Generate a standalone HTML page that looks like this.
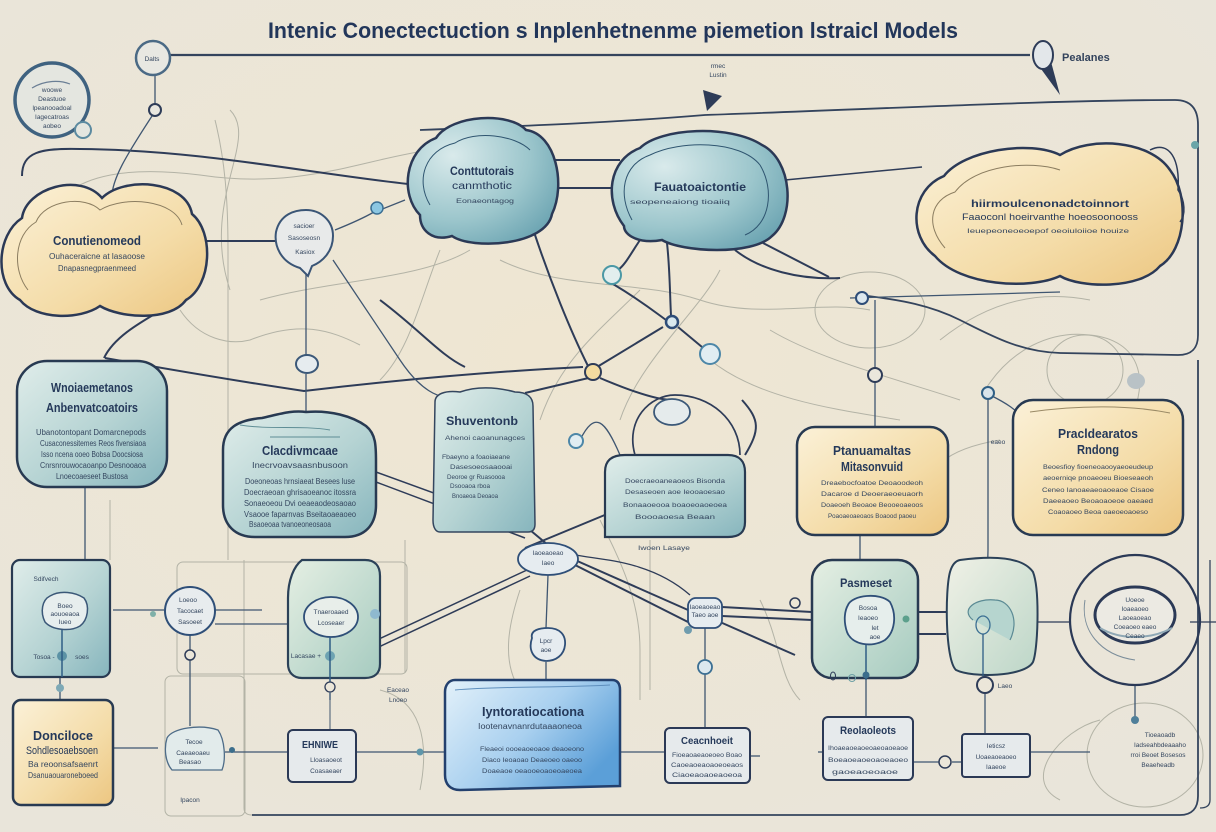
<!DOCTYPE html>
<html><head><meta charset="utf-8"><style>
html,body{margin:0;padding:0;background:#ebe6d9;}
svg{display:block;}
text{font-family:"Liberation Sans",sans-serif;fill:#25395a;}
.t{font-size:13px;font-weight:bold;}
.b{font-weight:bold;}
.s{font-size:8px;fill:#34465f;}
.xs{font-size:6.5px;fill:#34465f;}
</style></head><body>
<svg width="1216" height="832" viewBox="0 0 1216 832" xmlns="http://www.w3.org/2000/svg">
<defs>
<radialGradient id="bg" cx="0.45" cy="0.42" r="0.7">
<stop offset="0" stop-color="#efe6d2"/><stop offset="1" stop-color="#e9e5da"/></radialGradient>
<linearGradient id="teal" x1="0" y1="0" x2="1" y2="1">
<stop offset="0" stop-color="#e0edea"/><stop offset="0.55" stop-color="#b5d3d3"/><stop offset="1" stop-color="#86b5bd"/></linearGradient>
<radialGradient id="tcloud" cx="0.3" cy="0.3" r="0.85">
<stop offset="0" stop-color="#d9eaeb"/><stop offset="0.6" stop-color="#9cc6cc"/><stop offset="1" stop-color="#6aa3b1"/></radialGradient>
<linearGradient id="yel" x1="0" y1="0" x2="1" y2="1">
<stop offset="0" stop-color="#fbf1d8"/><stop offset="0.6" stop-color="#f4dca8"/><stop offset="1" stop-color="#ecc681"/></linearGradient>
<linearGradient id="blue" x1="0" y1="0" x2="1" y2="0.6">
<stop offset="0" stop-color="#e3f1fa"/><stop offset="0.55" stop-color="#a9d0ef"/><stop offset="1" stop-color="#5b9fd8"/></linearGradient>
<linearGradient id="green" x1="0" y1="0" x2="1" y2="1">
<stop offset="0" stop-color="#e5efe3"/><stop offset="1" stop-color="#a6cbc0"/></linearGradient>
<linearGradient id="pale" x1="0" y1="0" x2="1" y2="1">
<stop offset="0" stop-color="#f0f1e6"/><stop offset="1" stop-color="#bcd6c8"/></linearGradient>
</defs>
<rect width="1216" height="832" fill="url(#bg)"/>

<!-- faint background connectors -->
<g fill="none" stroke="#b3b3a6" stroke-width="1">
<path d="M 40 230 C 60 175, 120 165, 200 175 C 300 190, 360 160, 430 150"/>
<path d="M 230 290 C 200 200, 260 140, 230 110"/>
<path d="M 180 310 C 200 340, 230 345, 250 340 C 300 320, 330 330, 360 345"/>
<path d="M 470 250 C 420 280, 330 280, 260 300"/>
<path d="M 215 120 C 225 160, 228 200, 228 250 L 228 560"/>
<path d="M 440 250 C 420 300, 410 350, 380 380"/>
<path d="M 500 260 C 560 290, 640 280, 700 300 C 760 320, 820 300, 870 310"/>
<path d="M 640 290 C 600 330, 560 360, 540 420"/>
<path d="M 720 270 C 700 310, 640 360, 620 420"/>
<path d="M 770 330 C 820 360, 900 380, 960 400"/>
<path d="M 710 360 C 760 400, 840 410, 900 420"/>
<path d="M 940 340 C 990 300, 1040 290, 1090 300"/>
<path d="M 985 390 C 1010 350, 1050 330, 1090 335 C 1140 340, 1150 380, 1130 420"/>
<ellipse cx="870" cy="310" rx="55" ry="38"/>
<ellipse cx="1085" cy="370" rx="38" ry="35"/>
<path d="M 520 590 C 510 620, 500 660, 520 690"/>
<path d="M 600 520 C 620 560, 640 600, 640 650 L 640 700"/>
<rect x="177" y="562" width="230" height="112" rx="6"/>
<rect x="165" y="676" width="80" height="140" rx="6"/>
<path d="M 244 560 L 244 808 C 244 812, 246 815, 252 815"/>
<path d="M 405 540 L 405 673"/>
<path d="M 110 560 L 110 500"/>
<path d="M 1100 720 C 1060 730, 1020 780, 1060 800"/>
<ellipse cx="1145" cy="755" rx="58" ry="52"/>
<path d="M 1000 440 C 940 450, 930 470, 920 500"/>
<path d="M 650 540 L 650 690"/>
<path d="M 760 600 C 780 640, 780 680, 800 700"/>
<path d="M 380 690 C 420 700, 430 740, 420 790"/>
</g>

<!-- outer frame -->
<g fill="none" stroke="#34445d" stroke-width="1.8">
<path d="M 252 815 L 1180 815 C 1192 815, 1198 808, 1198 796 L 1198 360"/>
<path d="M 1210 560 L 1210 800 C 1210 806, 1206 808, 1200 808" stroke-width="1.3"/>
<path d="M 168 55 L 1030 55" stroke-width="2.2"/>
<path d="M 420 130 C 550 125, 620 122, 705 115 C 900 108, 1060 100, 1175 100 C 1192 100, 1198 110, 1198 125 L 1198 335 C 1198 350, 1190 355, 1178 355 L 1060 353 C 1020 352, 990 335, 960 320 C 930 305, 900 300, 868 296"/>
</g>

<!-- heavy connectors -->
<g fill="none" stroke="#2e3c58" stroke-width="2">
<path d="M 22 176 C 22 152, 40 148, 80 149 C 200 150, 300 172, 408 184"/>
<path d="M 205 241 L 276 241"/>
<path d="M 555 160 L 620 160"/>
<path d="M 556 188 L 615 188"/>
<path d="M 785 180 L 922 167" stroke-width="1.5"/>
<path d="M 763 243 L 829 277"/>
<path d="M 735 250 C 760 270, 800 280, 840 278"/>
<path d="M 104 358 C 115 335, 145 320, 170 305 C 180 298, 186 290, 188 283"/>
<path d="M 105 358 C 150 366, 230 380, 304 391 C 380 382, 480 372, 583 367"/>
<path d="M 380 300 C 420 330, 440 355, 465 367"/>
<path d="M 534 232 C 550 280, 570 330, 588 366"/>
<path d="M 597 367 L 663 327"/>
<path d="M 667 243 C 670 270, 670 300, 671 315"/>
<path d="M 613 284 C 640 300, 655 312, 666 320"/>
<path d="M 678 327 L 702 347"/>
<path d="M 640 240 C 630 255, 625 265, 618 270"/>
<path d="M 597 376 L 525 393"/>
<path d="M 600 378 C 640 395, 660 400, 672 400"/>
<path d="M 376 472 L 530 528" stroke-width="1.5"/>
<path d="M 376 482 L 525 538" stroke-width="1.5"/>
<path d="M 530 530 L 548 545"/>
<path d="M 525 548 L 612 512"/>
<path d="M 575 560 L 688 610"/>
<path d="M 575 565 L 688 622"/>
<path d="M 364 646 L 527 570" stroke-width="1.5"/>
<path d="M 366 653 L 530 576" stroke-width="1.5"/>
<path d="M 722 607 L 812 612"/>
<path d="M 722 616 L 812 620"/>
<path d="M 720 622 L 795 655"/>
<path d="M 690 595 C 650 560, 600 560, 576 555" stroke-width="1.3"/>
<path d="M 918 612 L 946 612"/>
<path d="M 918 634 L 946 634"/>
<path d="M 1037 622 L 1070 622" stroke-width="1.3"/>
<path d="M 1190 622 L 1216 622" stroke-width="1.3"/>
<path d="M 635 455 C 625 420, 650 395, 675 395 C 710 395, 740 420, 740 455" stroke-width="1.7"/>
<path d="M 745 455 C 760 430, 760 420, 742 400"/>
</g>

<!-- medium connectors -->
<g fill="none" stroke="#3f5671" stroke-width="1.3">
<path d="M 155 76 L 155 104"/>
<path d="M 152 116 C 130 150, 110 180, 112 200"/>
<path d="M 306 265 L 306 356"/>
<path d="M 306 374 L 306 415"/>
<path d="M 333 260 C 360 300, 380 330, 400 360 C 420 390, 440 400, 450 395"/>
<path d="M 374 212 C 360 220, 345 226, 335 230"/>
<path d="M 380 210 L 405 200"/>
<path d="M 85 487 L 85 560"/>
<path d="M 60 677 L 60 700"/>
<path d="M 113 610 L 164 610"/>
<path d="M 215 610 L 262 610"/>
<path d="M 215 624 L 295 624"/>
<path d="M 190 636 L 190 726"/>
<path d="M 113 748 L 158 748"/>
<path d="M 225 752 L 288 752"/>
<path d="M 356 752 L 445 752"/>
<path d="M 546 662 L 546 680"/>
<path d="M 548 575 L 546 628"/>
<path d="M 705 628 L 705 660"/>
<path d="M 705 674 L 705 728"/>
<path d="M 620 752 L 665 752"/>
<path d="M 750 756 L 760 756"/>
<path d="M 866 678 L 866 717"/>
<path d="M 818 752 L 823 752"/>
<path d="M 913 762 L 945 762"/>
<path d="M 952 762 L 962 762"/>
<path d="M 860 535 L 860 560"/>
<path d="M 875 300 L 875 368"/>
<path d="M 875 382 L 875 427"/>
<path d="M 988 400 L 988 550 L 985 677"/>
<path d="M 985 693 L 985 734"/>
<path d="M 1135 685 L 1135 718"/>
<path d="M 1030 752 L 1090 752"/>
<path d="M 850 298 L 1060 292"/>
<path d="M 990 395 C 1010 405, 1015 410, 1020 415"/>
<path d="M 620 455 C 605 420, 595 410, 580 440"/>
</g>

<!-- top-left circle -->
<circle cx="52" cy="100" r="37" fill="#e4e6e0" stroke="#3f6280" stroke-width="3.5"/>
<circle cx="83" cy="130" r="8" fill="#e4e6e0" stroke="#5b8aa0" stroke-width="2"/>
<path d="M 32 88 C 45 80, 60 80, 70 84" fill="none" stroke="#6b7f95" stroke-width="1.2"/>
<text x="52" y="92" class="xs" text-anchor="middle">woowe</text>
<text x="52" y="101" class="xs" text-anchor="middle">Deastuoe</text>
<text x="52" y="110" class="xs" text-anchor="middle">lpeanooadoal</text>
<text x="52" y="119" class="xs" text-anchor="middle">Iagecatroas</text>
<text x="52" y="128" class="xs" text-anchor="middle">aobeo</text>

<circle cx="153" cy="58" r="17" fill="#e8e8e2" stroke="#4b6a85" stroke-width="2.5"/>
<text x="152" y="61" class="xs" text-anchor="middle">Dalts</text>
<circle cx="155" cy="110" r="6" fill="#e9e7df" stroke="#2e3c58" stroke-width="2"/>

<!-- title -->
<text x="268" y="38" font-size="22" font-weight="bold" textLength="690" lengthAdjust="spacingAndGlyphs" style="fill:#22365a">Intenic Conectectuction s Inplenhetnenme piemetion lstraicl Models</text>

<!-- pin right -->
<path d="M 1036 62 L 1060 95 L 1050 58 Z" fill="#2e3c58"/>
<ellipse cx="1043" cy="55" rx="10" ry="14" fill="#e3e7ea" stroke="#2e3c58" stroke-width="2"/>
<text x="1062" y="61" font-size="11" class="b" style="fill:#33435c">Pealanes</text>
<path d="M 703 90 L 722 96 L 707 111 Z" fill="#2e3c58"/>
<text x="718" y="68" class="xs" text-anchor="middle">rmec</text>
<text x="718" y="77" class="xs" text-anchor="middle">Lustin</text>

<!-- clouds -->
<path d="M 20 300 C -6 285, -4 235, 22 218 C 26 188, 80 172, 102 198 C 124 176, 186 180, 192 214 C 214 232, 212 285, 186 300 C 170 322, 120 318, 100 306 C 80 320, 36 320, 20 300 Z" fill="url(#yel)" stroke="#2b3956" stroke-width="2.5"/>
<path d="M 28 290 C 12 270, 14 235, 36 222 C 45 200, 85 195, 100 210 C 125 195, 175 200, 182 225" fill="none" stroke="#8b7d60" stroke-width="1"/>
<text x="97" y="245" class="t" text-anchor="middle" textLength="88" lengthAdjust="spacingAndGlyphs">Conutienomeod</text>
<text x="97" y="259" class="s" text-anchor="middle" textLength="96" lengthAdjust="spacingAndGlyphs">Ouhaceraicne at lasaoose</text>
<text x="97" y="271" class="s" text-anchor="middle" textLength="78" lengthAdjust="spacingAndGlyphs">Dnapasnegpraenmeed</text>

<path d="M 420 215 C 400 195, 404 150, 436 138 C 452 114, 510 112, 526 130 C 556 134, 566 185, 552 214 C 546 246, 472 250, 452 236 C 432 242, 420 230, 420 215 Z" fill="url(#tcloud)" stroke="#2b3956" stroke-width="2.5"/>
<path d="M 430 205 C 415 180, 425 150, 455 143 C 475 130, 515 135, 530 150" fill="none" stroke="#2f5570" stroke-width="1"/>
<text x="482" y="175" font-size="12" class="b" text-anchor="middle" textLength="64" lengthAdjust="spacingAndGlyphs">Conttutorais</text>
<text x="482" y="189" font-size="10" text-anchor="middle" textLength="60" lengthAdjust="spacingAndGlyphs">canmthotic</text>
<text x="485" y="203" class="xs" text-anchor="middle" textLength="58" lengthAdjust="spacingAndGlyphs">Eonaeontagog</text>

<path d="M 624 226 C 604 200, 608 160, 640 148 C 660 128, 730 124, 762 145 C 792 160, 796 216, 772 236 C 752 256, 682 252, 662 240 C 640 244, 624 236, 624 226 Z" fill="url(#tcloud)" stroke="#2b3956" stroke-width="2.5"/>
<path d="M 632 220 C 618 195, 622 165, 650 155 C 680 140, 740 140, 760 165 C 775 190, 770 225, 745 235" fill="none" stroke="#2f5570" stroke-width="1"/>
<text x="700" y="191" font-size="12" class="b" text-anchor="middle" textLength="92" lengthAdjust="spacingAndGlyphs">Fauatoaictontie</text>
<text x="680" y="204" class="xs" text-anchor="middle" textLength="100" lengthAdjust="spacingAndGlyphs">seopeneaiong tioaiiq</text>

<path d="M 935 256 C 908 236, 910 190, 944 176 C 964 150, 1030 140, 1060 155 C 1090 136, 1150 140, 1170 170 C 1190 196, 1186 250, 1160 266 C 1140 290, 1080 288, 1060 276 C 1030 290, 960 286, 935 256 Z" fill="url(#yel)" stroke="#2b3956" stroke-width="2.5"/>
<path d="M 945 248 C 925 225, 930 200, 955 192 C 975 165, 1030 160, 1060 170" fill="none" stroke="#8b7d60" stroke-width="1"/>
<path d="M 1150 150 C 1170 140, 1180 160, 1178 190 C 1185 200, 1186 215, 1180 222" fill="none" stroke="#2e3c58" stroke-width="1.5"/>
<text x="1050" y="207" font-size="10.5" class="b" text-anchor="middle" textLength="158" lengthAdjust="spacingAndGlyphs">hiirmoulcenonadctoinnort</text>
<text x="1050" y="220" font-size="9" text-anchor="middle" textLength="176" lengthAdjust="spacingAndGlyphs">Faaoconl hoeirvanthe hoeosoonooss</text>
<text x="1048" y="233" class="xs" text-anchor="middle" textLength="162" lengthAdjust="spacingAndGlyphs">Ieuepeoneoeoepof oeoiuloiioe houize</text>

<!-- speech bubble -->
<path d="M 300 268 C 280 262, 274 245, 276 232 C 280 214, 295 210, 306 210 C 320 210, 333 220, 333 236 C 333 252, 322 262, 312 266 L 308 276 Z" fill="#e8eaea" stroke="#3a5576" stroke-width="2"/>
<text x="304" y="228" class="xs" text-anchor="middle">sacioer</text>
<text x="304" y="240" class="xs" text-anchor="middle">Sasoseosn</text>
<text x="305" y="254" class="xs" text-anchor="middle">Kasiox</text>

<!-- small nodes -->
<ellipse cx="307" cy="364" rx="11" ry="9" fill="#e6ecef" stroke="#3b5878" stroke-width="2"/>
<circle cx="377" cy="208" r="6" fill="#8cc7e2" stroke="#3b6f93" stroke-width="1.5"/>
<circle cx="612" cy="275" r="9" fill="#e2eeee" stroke="#4b98a5" stroke-width="2"/>
<circle cx="672" cy="322" r="6" fill="#d9e8ee" stroke="#2e4d78" stroke-width="2.5"/>
<circle cx="593" cy="372" r="8" fill="#f4dca0" stroke="#2e3c58" stroke-width="2"/>
<circle cx="710" cy="354" r="10" fill="#e1edf2" stroke="#4d87a8" stroke-width="2"/>
<circle cx="862" cy="298" r="6" fill="#dde8ef" stroke="#2e4d78" stroke-width="2"/>
<circle cx="875" cy="375" r="7" fill="#ebe7dc" stroke="#2e3c58" stroke-width="2"/>
<circle cx="988" cy="393" r="6" fill="#d9e4ea" stroke="#2f5f85" stroke-width="2"/>
<circle cx="576" cy="441" r="7" fill="#e1edf2" stroke="#4d87a8" stroke-width="2"/>
<ellipse cx="672" cy="412" rx="18" ry="13" fill="#e5ebec" stroke="#3b5878" stroke-width="1.8"/>
<ellipse cx="1136" cy="381" rx="9" ry="8" fill="#b9c2c6"/>
<circle cx="1195" cy="145" r="4" fill="#6aa5a8"/>

<!-- box 5 -->
<rect x="17" y="361" width="150" height="126" rx="30" fill="url(#teal)" stroke="#283a52" stroke-width="2.5"/>
<text x="92" y="392" class="t" text-anchor="middle" textLength="82" lengthAdjust="spacingAndGlyphs">Wnoiaemetanos</text>
<text x="92" y="412" class="t" text-anchor="middle" textLength="92" lengthAdjust="spacingAndGlyphs">Anbenvatcoatoirs</text>
<text x="91" y="435" class="s" text-anchor="middle" textLength="110" lengthAdjust="spacingAndGlyphs">Ubanotontopant Domarcnepods</text>
<text x="93" y="446" class="s" text-anchor="middle" textLength="106" lengthAdjust="spacingAndGlyphs">Cusaconessitemes Reos fivensiaoa</text>
<text x="92" y="457" class="s" text-anchor="middle" textLength="102" lengthAdjust="spacingAndGlyphs">Isso ncena ooeo Bobsa Doocsiosa</text>
<text x="93" y="468" class="s" text-anchor="middle" textLength="106" lengthAdjust="spacingAndGlyphs">Cnrsnrouwocaoanpo Desnooaoa</text>
<text x="92" y="479" class="s" text-anchor="middle" textLength="72" lengthAdjust="spacingAndGlyphs">Lnoecoaeseet Bustosa</text>

<!-- box 6 -->
<path d="M 223 450 C 223 428, 238 420, 262 418 C 280 414, 292 410, 306 412 C 330 410, 352 416, 366 426 C 376 434, 376 446, 376 462 L 376 505 C 376 525, 365 537, 345 537 L 255 537 C 235 537, 223 525, 223 505 Z" fill="url(#teal)" stroke="#283a52" stroke-width="2.5"/>
<path d="M 240 425 C 270 430, 300 425, 330 430 M 270 437 L 340 437" fill="none" stroke="#5e8d95" stroke-width="1"/>
<text x="300" y="455" class="t" text-anchor="middle" textLength="76" lengthAdjust="spacingAndGlyphs">Clacdivmcaae</text>
<text x="300" y="468" class="s" text-anchor="middle" textLength="96" lengthAdjust="spacingAndGlyphs">Inecrvoavsaasnbusoon</text>
<text x="300" y="484" class="s" text-anchor="middle" textLength="110" lengthAdjust="spacingAndGlyphs">Doeoneoas hrnsiaeat Besees luse</text>
<text x="300" y="495" class="s" text-anchor="middle" textLength="112" lengthAdjust="spacingAndGlyphs">Doecraeoan ghrisaoeanoc itossra</text>
<text x="300" y="506" class="s" text-anchor="middle" textLength="112" lengthAdjust="spacingAndGlyphs">Sonaeoeou Dvi oeaeaodeosaoao</text>
<text x="300" y="517" class="s" text-anchor="middle" textLength="112" lengthAdjust="spacingAndGlyphs">Vsaooe faparnvas Bseitaoaeaoeo</text>
<text x="290" y="527" class="s" text-anchor="middle" textLength="82" lengthAdjust="spacingAndGlyphs">Bsaoeoaa tvanoeoneosaoa</text>

<!-- box 7 -->
<path d="M 435 402 C 435 394, 445 390, 460 392 C 480 385, 500 388, 515 392 C 528 392, 533 398, 533 406 L 535 524 C 535 530, 532 532, 528 532 L 440 532 C 436 532, 433 528, 433 520 Z" fill="url(#teal)" stroke="#34465f" stroke-width="1.5"/>
<text x="482" y="425" font-size="12" class="b" text-anchor="middle" textLength="72" lengthAdjust="spacingAndGlyphs">Shuventonb</text>
<text x="485" y="440" class="xs" text-anchor="middle" textLength="80" lengthAdjust="spacingAndGlyphs">Ahenoi caoanunagces</text>
<text x="442" y="459" class="xs" textLength="68" lengthAdjust="spacingAndGlyphs">Fbaeyno a foaoiaeane</text>
<text x="450" y="469" class="xs" textLength="62" lengthAdjust="spacingAndGlyphs">Dasesoeosaaooai</text>
<text x="447" y="479" class="xs" textLength="58" lengthAdjust="spacingAndGlyphs">Deoroe gr Ruasoooa</text>
<text x="450" y="488" class="xs" textLength="40" lengthAdjust="spacingAndGlyphs">Dsooaoa rboa</text>
<text x="452" y="498" class="xs" textLength="46" lengthAdjust="spacingAndGlyphs">Bnoaeoa Deoaoa</text>

<!-- box 8 -->
<path d="M 605 472 C 605 460, 612 455, 625 455 L 728 455 C 740 455, 745 462, 745 472 L 745 522 C 745 532, 740 537, 728 537 L 605 537 Z" fill="url(#teal)" stroke="#283a52" stroke-width="2.2"/>
<text x="675" y="483" class="xs" text-anchor="middle" textLength="100" lengthAdjust="spacingAndGlyphs">Doecraeoaneaoeos Bisonda</text>
<text x="675" y="494" class="xs" text-anchor="middle" textLength="100" lengthAdjust="spacingAndGlyphs">Desaseoen aoe Ieooaoesao</text>
<text x="675" y="507" class="xs" text-anchor="middle" textLength="104" lengthAdjust="spacingAndGlyphs">Bonaaoeooa boaoeoaoeoea</text>
<text x="675" y="519" class="xs" text-anchor="middle" textLength="80" lengthAdjust="spacingAndGlyphs">Boooaoesa Beaan</text>
<text x="664" y="550" class="xs" text-anchor="middle" textLength="52" lengthAdjust="spacingAndGlyphs">Iwoen Lasaye</text>

<!-- box 9 -->
<rect x="797" y="427" width="151" height="108" rx="18" fill="url(#yel)" stroke="#283a52" stroke-width="2.5"/>
<text x="872" y="455" class="t" text-anchor="middle" textLength="78" lengthAdjust="spacingAndGlyphs">Ptanuamaltas</text>
<text x="872" y="471" class="t" text-anchor="middle" textLength="62" lengthAdjust="spacingAndGlyphs">Mitasonvuid</text>
<text x="872" y="485" class="xs" text-anchor="middle" textLength="102" lengthAdjust="spacingAndGlyphs">Dreaebocfoatoe Deoaoodeoh</text>
<text x="872" y="496" class="xs" text-anchor="middle" textLength="102" lengthAdjust="spacingAndGlyphs">Dacaroe d Deoeraeoeuaorh</text>
<text x="872" y="507" class="xs" text-anchor="middle" textLength="102" lengthAdjust="spacingAndGlyphs">Doaeoeh Beoaoe Beooeoaeoos</text>
<text x="872" y="518" class="xs" text-anchor="middle" textLength="88" lengthAdjust="spacingAndGlyphs">Poaoaeoaeoaos Boaood paoeu</text>

<!-- box 10 -->
<rect x="1013" y="400" width="170" height="135" rx="20" fill="url(#yel)" stroke="#283a52" stroke-width="2.5"/>
<path d="M 1030 412 C 1080 405, 1130 405, 1170 413" fill="none" stroke="#9a8a66" stroke-width="1"/>
<text x="1098" y="438" class="t" text-anchor="middle" textLength="80" lengthAdjust="spacingAndGlyphs">Pracldearatos</text>
<text x="1098" y="454" class="t" text-anchor="middle" textLength="42" lengthAdjust="spacingAndGlyphs">Rndong</text>
<text x="1098" y="469" class="xs" text-anchor="middle" textLength="110" lengthAdjust="spacingAndGlyphs">Beoesfioy fioeneoaooyaeoeudeup</text>
<text x="1098" y="480" class="xs" text-anchor="middle" textLength="110" lengthAdjust="spacingAndGlyphs">aeoerniqe pnoaeoeu Bioeseaeoh</text>
<text x="1098" y="492" class="xs" text-anchor="middle" textLength="112" lengthAdjust="spacingAndGlyphs">Ceneo Ianoaeaeoaoeaoe Cisaoe</text>
<text x="1098" y="503" class="xs" text-anchor="middle" textLength="110" lengthAdjust="spacingAndGlyphs">Daeeaoeo Beoaoaoeoe oaeaed</text>
<text x="1098" y="514" class="xs" text-anchor="middle" textLength="100" lengthAdjust="spacingAndGlyphs">Coaoaoeo Beoa oaeoeoaoeso</text>
<text x="998" y="444" class="xs" text-anchor="middle">eaeo</text>

<!-- box 11 -->
<rect x="12" y="560" width="98" height="117" rx="8" fill="url(#teal)" stroke="#283a52" stroke-width="2.2"/>
<text x="46" y="581" class="xs" text-anchor="middle">Sdifvech</text>
<path d="M 50 596 C 60 590, 75 592, 84 598 C 90 606, 88 620, 80 626 C 70 632, 52 630, 45 622 C 40 612, 42 600, 50 596 Z" fill="#e7eeee" stroke="#3b5878" stroke-width="1.5"/>
<text x="65" y="608" class="xs" text-anchor="middle">Boeo</text>
<text x="65" y="616" class="xs" text-anchor="middle">aouoeaoa</text>
<text x="65" y="624" class="xs" text-anchor="middle">Iueo</text>
<text x="44" y="659" class="xs" text-anchor="middle">Tosoa -</text>
<text x="82" y="659" class="xs" text-anchor="middle">soes</text>
<circle cx="62" cy="656" r="5" fill="#5b92a5"/>
<path d="M 62 630 L 62 677" stroke="#2e5d85" stroke-width="1.5"/>
<circle cx="60" cy="688" r="4" fill="#7ea9b6"/>

<!-- box 12 -->
<rect x="13" y="700" width="100" height="105" rx="8" fill="url(#yel)" stroke="#283a52" stroke-width="2.5"/>
<text x="63" y="740" class="t" text-anchor="middle" textLength="60" lengthAdjust="spacingAndGlyphs">Donciloce</text>
<text x="62" y="754" font-size="11" text-anchor="middle" textLength="72" lengthAdjust="spacingAndGlyphs">Sohdlesoaebsoen</text>
<text x="63" y="767" class="s" text-anchor="middle" textLength="70" lengthAdjust="spacingAndGlyphs">Ba reoonsafsaenrt</text>
<text x="63" y="778" class="s" text-anchor="middle" textLength="70" lengthAdjust="spacingAndGlyphs">Dsanuaouaroneboeed</text>

<!-- bubble -->
<ellipse cx="190" cy="611" rx="25" ry="24" fill="#e8ecee" stroke="#2f4f78" stroke-width="2"/>
<text x="188" y="602" class="xs" text-anchor="middle">Loeoo</text>
<text x="190" y="613" class="xs" text-anchor="middle">Tacocaet</text>
<text x="190" y="624" class="xs" text-anchor="middle">Sasoeet</text>
<circle cx="190" cy="655" r="5" fill="#ebe6d9" stroke="#2e3c58" stroke-width="1.5"/>
<circle cx="153" cy="614" r="3" fill="#7fb0a8"/>

<!-- box 13 -->
<path d="M 302 560 L 365 560 C 375 560, 380 566, 380 576 L 380 664 C 380 673, 375 678, 365 678 L 302 678 C 293 678, 288 672, 288 664 L 288 598 C 288 580, 294 566, 302 560 Z" fill="url(#green)" stroke="#2b4158" stroke-width="2.2"/>
<ellipse cx="331" cy="617" rx="27" ry="20" fill="#e8eeea" stroke="#2f4f78" stroke-width="1.8"/>
<text x="331" y="614" class="xs" text-anchor="middle">Tnaeroaaed</text>
<text x="331" y="625" class="xs" text-anchor="middle">Lcoseaer</text>
<text x="306" y="658" class="xs" text-anchor="middle">Lacasae +</text>
<circle cx="330" cy="656" r="5" fill="#6da3b2"/>
<path d="M 330 637 L 330 700" stroke="#2e5d85" stroke-width="1.5"/>
<circle cx="330" cy="687" r="5" fill="#ebe6d9" stroke="#2e3c58" stroke-width="1.3"/>
<path d="M 330 692 L 330 730" stroke="#5f7083" stroke-width="1.2"/>
<circle cx="375" cy="614" r="5" fill="#8fb9cf"/>

<!-- small blob box -->
<path d="M 167 738 C 172 728, 200 724, 218 730 C 225 740, 226 760, 222 770 L 172 770 C 165 762, 164 748, 167 738 Z" fill="#e2ebeb" stroke="#4e6c88" stroke-width="1.3"/>
<text x="194" y="744" class="xs" text-anchor="middle">Tecoe</text>
<text x="193" y="755" class="xs" text-anchor="middle">Caeaeoaeu</text>
<text x="190" y="764" class="xs" text-anchor="middle">Beasao</text>
<text x="190" y="802" class="xs" text-anchor="middle">Ipacon</text>
<circle cx="232" cy="750" r="3" fill="#3c6e8c"/>

<!-- box 18 -->
<rect x="288" y="730" width="68" height="52" rx="5" fill="#e6eaec" stroke="#2b3956" stroke-width="2"/>
<text x="320" y="748" font-size="10.5" class="b" text-anchor="middle" textLength="36" lengthAdjust="spacingAndGlyphs">EHNIWE</text>
<text x="326" y="762" class="xs" text-anchor="middle">Lloasaoeot</text>
<text x="326" y="773" class="xs" text-anchor="middle">Coasaeaer</text>
<text x="398" y="692" class="xs" text-anchor="middle">Eaceao</text>
<text x="398" y="702" class="xs" text-anchor="middle">Lnoeo</text>
<circle cx="420" cy="752" r="3.5" fill="#5e96aa"/>

<!-- hub ellipse -->
<ellipse cx="548" cy="559" rx="30" ry="16" fill="#e6ecf0" stroke="#2f4f78" stroke-width="1.8"/>
<text x="548" y="555" class="xs" text-anchor="middle">Iaoeaoeao</text>
<text x="548" y="565" class="xs" text-anchor="middle">Iaeo</text>
<path d="M 532 638 C 530 630, 540 628, 548 628 C 560 628, 566 635, 565 645 C 564 655, 556 661, 546 661 C 533 660, 528 650, 532 638 Z" fill="#e6ecf0" stroke="#2f4f78" stroke-width="1.8"/>
<text x="546" y="643" class="xs" text-anchor="middle">Lpcr</text>
<text x="546" y="652" class="xs" text-anchor="middle">aoe</text>

<!-- blue box -->
<path d="M 455 680 L 612 680 C 618 680, 620 684, 620 690 L 620 786 L 460 790 C 450 790, 445 784, 445 775 L 445 692 C 445 685, 449 680, 455 680 Z" fill="url(#blue)" stroke="#23406e" stroke-width="2.5"/>
<path d="M 455 690 C 500 686, 560 688, 610 685" fill="none" stroke="#5f8fbd" stroke-width="1"/>
<text x="533" y="716" class="t" text-anchor="middle" textLength="102" lengthAdjust="spacingAndGlyphs">Iyntoratiocationa</text>
<text x="530" y="729" class="s" text-anchor="middle" textLength="104" lengthAdjust="spacingAndGlyphs">Iootenavnanrdutaaaoneoa</text>
<text x="532" y="751" class="xs" text-anchor="middle" textLength="104" lengthAdjust="spacingAndGlyphs">Fleaeoi oooeaoeoaoe deaoeono</text>
<text x="532" y="762" class="xs" text-anchor="middle" textLength="100" lengthAdjust="spacingAndGlyphs">Diaco Ieoaoao Deaeoeo oaeoo</text>
<text x="532" y="773" class="xs" text-anchor="middle" textLength="100" lengthAdjust="spacingAndGlyphs">Doaeaoe oeaooeoaoeoaeoea</text>

<!-- hub2 -->
<rect x="688" y="598" width="34" height="30" rx="8" fill="#e6ecf0" stroke="#2f4f78" stroke-width="1.8"/>
<text x="705" y="609" class="xs" text-anchor="middle" font-size="5">Iaoeaoeao</text>
<text x="705" y="617" class="xs" text-anchor="middle" font-size="5">Taeo aoe</text>
<circle cx="705" cy="667" r="7" fill="#dce8ee" stroke="#3b6f93" stroke-width="1.8"/>
<circle cx="688" cy="630" r="4" fill="#6f9cae"/>
<circle cx="795" cy="603" r="5" fill="none" stroke="#2e3c58" stroke-width="1.5"/>

<!-- box 19 -->
<rect x="665" y="728" width="85" height="55" rx="5" fill="#e6eaec" stroke="#2b3956" stroke-width="2"/>
<text x="707" y="744" font-size="10.5" class="b" text-anchor="middle" textLength="52" lengthAdjust="spacingAndGlyphs">Ceacnhoeit</text>
<text x="707" y="757" class="xs" text-anchor="middle" textLength="70" lengthAdjust="spacingAndGlyphs">Fioeaoaeaoeoeo Boao</text>
<text x="707" y="767" class="xs" text-anchor="middle" textLength="72" lengthAdjust="spacingAndGlyphs">Caoeaoeaoaoeoeaos</text>
<text x="707" y="777" class="xs" text-anchor="middle" textLength="70" lengthAdjust="spacingAndGlyphs">Ciaoeaoaoeaoeoa</text>

<!-- box 14 -->
<rect x="812" y="560" width="106" height="118" rx="20" fill="url(#green)" stroke="#283a52" stroke-width="2.5"/>
<text x="866" y="587" font-size="12" class="b" text-anchor="middle" textLength="52" lengthAdjust="spacingAndGlyphs">Pasmeset</text>
<path d="M 848 605 C 852 595, 880 592, 890 602 C 897 615, 895 632, 885 640 C 872 648, 852 645, 847 632 C 843 620, 845 610, 848 605 Z" fill="#e6eeec" stroke="#2f4f78" stroke-width="1.8"/>
<text x="868" y="610" class="xs" text-anchor="middle">Bosoa</text>
<text x="868" y="620" class="xs" text-anchor="middle">Ieaoeo</text>
<text x="875" y="630" class="xs" text-anchor="middle">Iet</text>
<text x="875" y="639" class="xs" text-anchor="middle">aoe</text>
<path d="M 866 645 L 866 680" stroke="#2e5d85" stroke-width="1.5"/>
<circle cx="866" cy="675" r="3.5" fill="#3c6e8c"/>
<ellipse cx="833" cy="676" rx="2.5" ry="4" fill="none" stroke="#2e3c58"/>
<circle cx="852" cy="678" r="3.5" fill="none" stroke="#6fa0a5"/>
<circle cx="906" cy="619" r="3.5" fill="#5ca08c"/>

<!-- box 15 -->
<path d="M 960 560 C 990 556, 1022 556, 1033 572 C 1040 590, 1038 650, 1033 662 C 1025 677, 972 678, 956 670 C 945 660, 945 590, 950 572 C 952 565, 955 561, 960 560 Z" fill="url(#pale)" stroke="#2b4158" stroke-width="2"/>
<path d="M 973 620 C 960 610, 975 598, 995 600 C 1010 600, 1020 620, 1010 640" fill="#b6d5cf" stroke="#5b8a94" stroke-width="1.2"/>
<ellipse cx="983" cy="625" rx="7" ry="9" fill="none" stroke="#3b6f93" stroke-width="1.3"/>
<path d="M 983 634 L 983 680" stroke="#2e5d85" stroke-width="1.3"/>
<circle cx="985" cy="685" r="8" fill="#ebe6d9" stroke="#2e3c58" stroke-width="2"/>
<text x="1005" y="688" class="xs" text-anchor="middle">Laeo</text>

<!-- circle 16 -->
<circle cx="1135" cy="620" r="65" fill="none" stroke="#2b3956" stroke-width="2.2"/>
<ellipse cx="1135" cy="615" rx="40" ry="28" fill="#eceae3" stroke="#2b3956" stroke-width="3"/>
<path d="M 1100 628 C 1120 640, 1150 640, 1172 628" fill="none" stroke="#8fa8b5" stroke-width="2"/>
<path d="M 1085 600 C 1080 630, 1100 655, 1135 660" fill="none" stroke="#7b8d9a" stroke-width="1"/>
<text x="1135" y="602" class="xs" text-anchor="middle">Uoeoe</text>
<text x="1135" y="611" class="xs" text-anchor="middle">Ioaeaoeo</text>
<text x="1135" y="620" class="xs" text-anchor="middle">Laoeaoeao</text>
<text x="1135" y="629" class="xs" text-anchor="middle">Coeaoeo eaeo</text>
<text x="1135" y="638" class="xs" text-anchor="middle">Ceaeo</text>

<!-- box 20 -->
<rect x="823" y="717" width="90" height="63" rx="5" fill="#e6eaec" stroke="#2b3956" stroke-width="2"/>
<text x="868" y="734" font-size="11" class="b" text-anchor="middle" textLength="56" lengthAdjust="spacingAndGlyphs">Reolaoleots</text>
<text x="868" y="750" class="xs" text-anchor="middle" textLength="80" lengthAdjust="spacingAndGlyphs">Ihoaeaoeaoeoaeoaoeaoe</text>
<text x="868" y="762" class="xs" text-anchor="middle" textLength="80" lengthAdjust="spacingAndGlyphs">Boeaoeaoeoaoeaoeo</text>
<text x="865" y="774" class="xs" text-anchor="middle" textLength="66" lengthAdjust="spacingAndGlyphs">gaoeaoeoaoe</text>
<circle cx="945" cy="762" r="6" fill="#ebe6d9" stroke="#2e3c58" stroke-width="1.5"/>

<!-- box 21 -->
<rect x="962" y="734" width="68" height="43" rx="3" fill="#e6eaec" stroke="#2b3956" stroke-width="2"/>
<text x="996" y="748" class="xs" text-anchor="middle">Ieticsz</text>
<text x="996" y="759" class="xs" text-anchor="middle">Uoaeaoeaoeo</text>
<text x="996" y="769" class="xs" text-anchor="middle">Iaaeoe</text>

<!-- bottom-right labels -->
<text x="1160" y="737" class="xs" text-anchor="middle">Tioeaoadb</text>
<text x="1160" y="747" class="xs" text-anchor="middle">Iadseahbdeaaaho</text>
<text x="1158" y="757" class="xs" text-anchor="middle">rroi Beoet Bosesos</text>
<text x="1158" y="767" class="xs" text-anchor="middle">Beaeheadb</text>
<circle cx="1135" cy="720" r="4" fill="#4f7f9a"/>
</svg>
</body></html>
